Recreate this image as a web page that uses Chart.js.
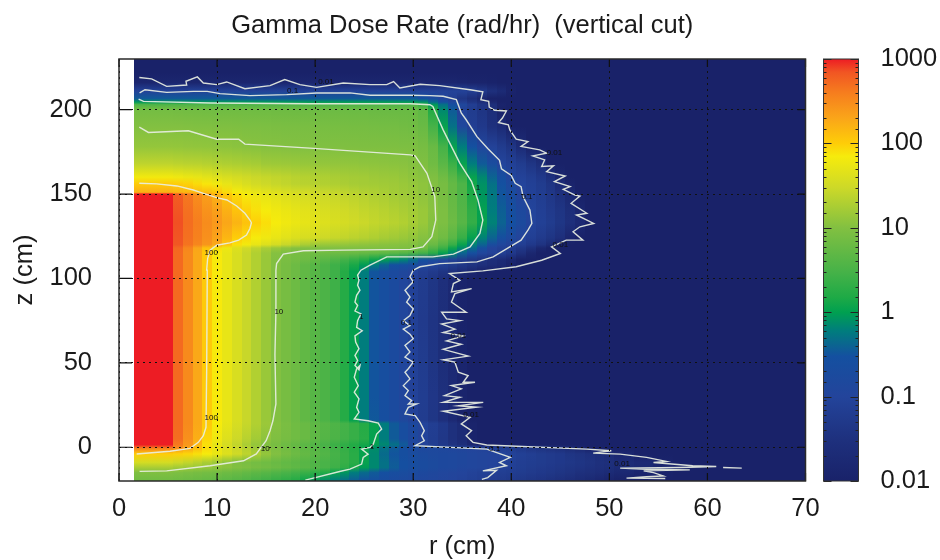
<!DOCTYPE html>
<html><head><meta charset="utf-8"><title>Gamma Dose Rate</title>
<style>html,body{margin:0;padding:0;background:#fff}canvas{display:block}</style>
<script src="https://cdn.jsdelivr.net/npm/chart.js@4"></script></head>
<body><canvas id="c" width="940" height="560"></canvas>
<script>
const chartTitle='Gamma Dose Rate (rad/hr)  (vertical cut)';
const xTicks=[0,10,20,30,40,50,60,70];
const yTicks=[0,50,100,150,200];
const barLabels=[0.01,0.1,1,10,100,1000];
// column edges in r (cm)
const rEdges=[1.5,5.5,6.5,7.5,8.5,9.5,10.5,11.5,12.5,13.5,14.5,15.5,16.5,17.5,18.5,19.5,20.5,21.5,22.5,23.5,24.5,25.5,26.5,27.5,28.5,29.5,30.5,31.5,32.5,33.5,34.5,35.5,36.5,37.5,38.5,39.5,40.5,41.5,42.5,43.5,44.5,45.5,46.5,47.5,48.5,49.5,50.5,52.5,54.5,56.5,58.5,60.5,62.5,64.5,70];
// z of each row of readings, top to bottom
const rowZ=[230,222,216,211,206.5,204.5,203,200,190,178,168,160,156,151,150,140,133,124,120,118,115,111,108,104,100,75,50,30,16,14,5,1.5,-0.5,-4,-9,-12,-15,-20];
// dose rate per row; a row stops where it falls to the 0.01 floor
const doseRows=[
[.01],
[.01],
[.014,.014,.014,.014,.014,.014,.014,.014,.014,.014,.014,.014,.014,.014,.014,.014,.014,.014,.014,.014,.014,.014,.014,.014,.014,.014,.014,.014,.014,.014,.013,.012,.012,.011,.01],
[.09,.09,.09,.09,.09,.09,.09,.09,.09,.09,.09,.09,.09,.09,.09,.09,.09,.09,.09,.09,.09,.09,.09,.09,.09,.09,.09,.09,.09,.09,.09,.07,.05,.03,.02,.012],
[.35,.35,.35,.35,.35,.35,.35,.35,.35,.35,.35,.35,.35,.35,.35,.35,.35,.35,.35,.35,.35,.35,.35,.35,.35,.35,.3,.2,.12,.07,.04,.025,.015],
[.9,.9,.9,.9,.9,.9,.9,.9,.9,.9,.9,.9,.9,.9,.9,.9,.9,.9,.9,.9,.9,.9,.9,.9,.9,.9,.8,.45,.25,.13,.07,.04,.025,.015],
[3.5,3.5,3.5,3.5,3.5,3.5,3.5,3.5,3.5,3.5,3.5,3.5,3.5,3.5,3.5,3.5,3.5,3.5,3.5,3.5,3.5,3.5,3.5,3.5,3.5,3.5,2.4,.9,.5,.25,.13,.07,.04,.025,.012],
[7.5,7.4,7.3,7.2,7.1,7,7,6.9,6.9,6.8,6.8,6.7,6.7,6.6,6.6,6.5,6.5,6.4,6.4,6.3,6.3,6.2,6.2,6.1,6.1,6,5,1.6,.7,.35,.09,.06,.04,.025,.01],
[10,10,9.8,9.7,9.6,9.5,9.4,9.2,9.1,9,8.8,8.7,8.6,8.5,8.4,8.3,8.2,8.1,8,7.9,7.8,7.7,7.6,7.5,7.3,7,6,3,1.1,.5,.13,.07,.05,.03,.02,.01],
[13,12.8,12.6,12.4,12.2,12,11.7,11.4,11.1,10.8,10.5,10.3,10.1,10,9.9,9.8,9.7,9.6,9.5,9.4,9.3,9.3,9.2,9.2,9.1,9,8,6,3,1.1,.6,.3,.12,.09,.06,.04,.02,.01],
[24,23,22.5,22,21,20,19,18.2,17.4,16.6,15,14.7,14.4,14,13.5,13,12.8,12.6,12.4,12.2,12,11.8,11.6,11.3,11,10.5,9.5,7,4.5,2.5,1.1,.6,.35,.2,.1,.08,.06,.04,.025,.01],
[65,60,56,52,47,42,38,35,32,29,27,25.5,24,22.5,21,20,19,18,17,16.5,16,15,14.5,14,13,12,11,9.5,7,4.5,2.5,1.1,.7,.4,.25,.12,.09,.07,.05,.03,.015,.01],
[105,100,95,85,75,62,52,44,38,33,30,27,25,23,22,21,20,19,18,17,16.5,16,15.5,15,14,13,12,10,8,5.5,3.5,1.3,.8,.5,.3,.16,.1,.08,.06,.04,.02,.012],
[170,160,150,140,130,110,85,70,60,52,46,42,38,35,33,30,28,26,24,22,20,19,17.5,16,15,14,12,10.5,8,5.5,3.5,1.5,.85,.55,.32,.2,.1,.085,.065,.045,.03,.017,.01],
[1000,620,430,300,220,160,110,85,68,58,50,45,40,37,34,31,29,27,25,23,21,19,18,16,15,14,12,10.5,8,5.5,3.5,1.5,.85,.55,.32,.2,.1,.085,.065,.045,.03,.017,.01],
[1000,700,480,360,280,220,165,120,95,80,70,62,56,50,46,42,38,35,32,29,26,24,22,20,18,16,14,11,9,6,4,2,1.05,.6,.38,.25,.15,.1,.075,.055,.04,.025,.015,.01],
[1000,720,500,390,310,250,195,155,120,98,82,70,62,56,50,46,42,38,35,32,29,26,24,22,20,17,14,10.5,9,6.5,4.2,2.2,1.1,.65,.4,.27,.17,.1,.08,.06,.042,.028,.018,.01],
[1000,700,480,370,290,210,150,100,85,70,60,52,45,40,36,33,30,27,25,23,21,19,17,15.5,14,12.5,10.5,9,7,4.5,2.3,1.05,.65,.4,.25,.16,.1,.075,.055,.04,.028,.014,.01],
[1000,680,460,340,260,190,115,80,65,52,42,35,28,23,18,15,14,13.5,13,12.5,12,11.5,11,10.8,10.5,10,8.5,6,4,2.3,1.1,.65,.4,.2,.12,.09,.07,.05,.035,.02,.01],
[1000,540,340,200,120,80,58,42,32,24,18,14,12,10.5,10,9.8,9.8,9.8,9.7,9.7,9.7,9.6,9.6,9.6,9.5,9.5,7,4,2.5,1.2,.75,.45,.25,.1,.08,.06,.045,.03,.015],
[1000,520,320,190,105,72,52,38,28,20,14.5,10.5,9,8,7.5,7,6.8,6.5,6.2,6,5.6,5.3,5,4.5,4,3.4,2.8,1.8,1.05,.7,.4,.25,.12,.09,.07,.05,.03,.015],
[1000,520,320,190,105,72,52,38,28,20,14,10,8.5,7.5,6.5,5.5,4.5,3.6,2.8,2.2,1.7,1.2,.95,.8,.65,.45,.3,.2,.12,.08,.06,.045,.035,.025,.02,.015,.01],
[1000,520,320,190,105,72,52,38,28,20,14,10,8,6.5,5.2,4.2,3.4,2.6,2,1.4,.95,.6,.4,.3,.25,.2,.14,.1,.08,.06,.045,.035,.028,.022,.017,.012,.01],
[1000,520,320,190,105,72,52,38,28,20,14,10,8,6.5,5.2,4.2,3.4,2.6,1.7,1.05,.6,.32,.24,.18,.13,.1,.07,.055,.04,.03,.022,.015,.01],
[1000,520,320,190,105,72,52,38,28,20,14,10,8,6.5,5.2,4.2,3.4,2.6,1.7,1.05,.6,.32,.24,.18,.12,.085,.06,.042,.028,.018,.012,.01],
[1000,520,320,190,105,72,52,38,28,20,14,10,8,6.5,5.2,4.2,3.4,2.6,1.7,1.05,.6,.32,.24,.18,.12,.08,.055,.038,.026,.016,.011,.01],
[1000,520,320,190,105,72,52,38,28,20,14,10,8,6.5,5.2,4.2,3.4,2.6,1.7,1.05,.6,.32,.24,.18,.12,.085,.06,.04,.026,.018,.013,.01],
[1000,520,320,190,105,72,52,38,28,20,14,10,8,6.5,5.2,4.2,3.4,2.6,1.7,1.05,.6,.32,.24,.18,.12,.09,.065,.044,.03,.019,.012,.01],
[1000,520,320,190,105,72,52,38,28,20,14,10,8,6.5,5.2,4.2,3.4,2.6,1.7,1.05,.6,.34,.25,.18,.13,.09,.06,.042,.028,.018,.012,.01],
[1000,520,320,190,105,70,50,36,27,20,14.5,10.5,8.5,7,6,5,4.2,3.5,2.9,2.3,1.7,1.1,.6,.35,.22,.15,.1,.07,.05,.03,.02,.012],
[1000,500,290,170,90,60,42,30,22,16,12,9.5,8,7,6,5,4,3.4,2.8,2.3,1.8,1.05,.6,.35,.22,.14,.095,.065,.045,.03,.02,.012],
[1000,420,250,150,80,50,35,25,18,13,9.5,8,6.5,5.5,4.6,3.8,3.1,2.5,2,1.6,1.3,1.02,.7,.5,.35,.12,.09,.07,.05,.035,.025,.015],
[400,300,200,130,85,55,40,29,21,15,11,9,7.2,6,5,4.2,3.5,2.8,2.2,1.7,1.1,.75,.5,.35,.25,.18,.15,.14,.13,.12,.11,.1,.09,.08,.07,.06,.05,.04,.035,.03,.025,.02,.015,.01],
[100,95,90,80,70,55,42,32,24,18,13,10,8,6.5,5.5,4.6,3.8,3,2.4,1.8,1.1,.7,.45,.32,.25,.2,.18,.16,.15,.14,.13,.12,.11,.1,.1,.09,.08,.07,.06,.055,.05,.04,.035,.03,.025,.02,.015,.01],
[35,30,26,22,18,15,12,9.5,8.5,7.5,6.8,6,5.3,4.8,4.2,3.7,3.2,2.8,2.3,1.8,1.1,.7,.5,.35,.27,.22,.19,.17,.15,.14,.13,.12,.11,.1,.09,.08,.07,.065,.06,.055,.05,.045,.04,.035,.03,.027,.022,.018,.012,.01],
[18,16,15,14,13,12,11,9.8,9,8,7.2,6.4,5.6,5,4.4,3.8,3.2,2.6,2,1.4,.95,.7,.5,.36,.28,.22,.19,.17,.15,.14,.125,.115,.105,.095,.085,.075,.068,.06,.055,.05,.045,.04,.036,.032,.028,.025,.02,.017,.014,.011,.01],
[9.5,9,8.5,8,7.6,7.2,6.6,6,5.4,4.8,4.2,3.7,3.2,2.8,2.4,2,1.6,1.15,.85,.6,.45,.35,.28,.23,.2,.17,.15,.135,.12,.11,.1,.09,.08,.075,.07,.065,.06,.055,.05,.045,.04,.035,.03,.027,.024,.02,.016,.013,.011,.01],
[7,6.6,6.2,5.8,5.4,5,4.5,4,3.5,3,2.6,2.2,1.9,1.6,1.2,.95,.75,.58,.45,.36,.3,.25,.21,.18,.16,.14,.125,.115,.105,.1,.09,.08,.07,.062,.055,.05,.045,.04,.036,.032,.028,.024,.02,.017,.014,.012,.01]
];
// contour polylines: r (cm), z (cm)
const c100R=[2.07,3.84,5.9,7.58,8.6,9.96,11,12,12.84,13.35,13.5,13.35,13,12.2,11.3,9.96,9.28,9.04,8.94,9,8.94,8.87,8.6,8.09,7.24,5.2,1.8];
const c100Z=[156.4,156,154.8,152.4,150.4,147.9,146.5,142.9,138.6,134.6,133,129.6,125.7,122.7,121.1,119.7,116.8,111.8,104.9,104.9,45.5,11.8,6.9,2.9,-0.7,-2.4,-4];
const c10R=[2.07,3,7.07,9.96,12.2,12.84,19.47,29.7,30.2,31.4,32.2,32.3,31.9,31,29.7,22.87,18.8,16.75,16.07,16,16,15.9,16,15.7,15.4,15,14,12.7,9.3,4.86,2.1];
const c10Z=[189.6,186.5,187.5,182.5,182.5,179.6,177.2,173.2,172.6,162.3,148.5,134.6,124.7,118.7,117.2,116.8,116.4,114.4,108.8,104.9,80,55,25.7,15.8,9.8,3.9,-4,-8,-11,-14,-14.3];
const c1R=[2,2.5,9.3,19.5,29.7,31.7,32,33.05,34.75,35.95,36.6,37.1,36.8,35.8,34.1,32,30.7,27.3,25.6,24.67,24.33,24.47,24.33,24.57,24.23,24.06,24.33,24.06,24.67,24.33,24.23,24.8,24.06,24.13,24.47,24.06,24.33,24.06,24.47,24.57,24.23,23.99,24.4,23.99,24.47,24.23,24.47,23.99,25.4,26.44,26.78,26.27,25.93,25.6,24.74,25.4,24.9,24.74,23.55,22.5,19];
const c1Z=[206.3,204.9,203.9,203.5,203.5,202.9,201.9,188,168.3,157.4,146.5,134.6,126.7,118.7,114.4,112.8,112.8,112.8,107.9,104.9,101.9,99,96,93,90,86,84,80.7,79,75,71,69,66,62.3,58.4,54.4,51.4,48.5,45.9,48.4,46.4,41.5,36.5,32.6,28.6,23.6,20.7,16.7,15.7,14.3,10.8,7.8,1.9,-0.1,-1.1,-4.1,-6,-10,-13,-14.4,-19.5];
const c01R=[2.1,2.65,4.86,7.6,9,10.3,13.35,17.1,20.15,23.55,25.6,29.7,31.7,33.05,34.4,34.9,35.4,36.5,37.6,38.8,39,40,40.4,41,41.2,41.9,42.1,41.7,41,39.85,38.15,36.5,32.7,30.7,30,29.67,30,29.16,29.67,29.33,30,29.67,28.99,29.67,28.99,29.67,30,29.16,29.67,29.16,30,29.5,29.16,29.67,28.99,29.5,29.16,29.84,29.5,30.35,29.5,29.16,30.2,30.7,31.13,30.86,31.13,30.2,37.5,39.9,38.8,39.5,37.1,38.5,37.6,37];
const c01Z=[209.9,211.8,210.2,210.8,210.8,209.5,208.3,208.9,209.9,209.9,208.5,208.5,208.3,207.9,205.9,198,194,184,177,170,165,161,156.4,154.4,148.5,140.5,132.6,128.6,122.7,118.7,112.8,109.8,108.8,106.9,104.9,101,98,93,89,86,82,78,75,72,70,67,64.3,60.3,56.4,53.4,50.4,46.5,44.4,40.5,36.5,33.6,30.6,27.6,25.6,25.6,23.6,19.7,18.7,14.7,9.8,6.8,3.8,0.9,-1.1,-6,-9,-11,-14,-13.6,-18,-19];
const c001R=[2.07,3.33,4.86,6.9,6.83,7.99,8.6,9.96,10.98,12.84,15.4,16.9,18.45,20.15,22.87,25.6,27.3,28,28.64,30.7,32.7,35.8,37.1,36.9,37.7,37.75,38.3,39.5,39.1,38.7,39.7,39.85,40.5,41.7,41,42.9,43.6,42.2,43.4,43.1,44.3,43.6,45.5,44.4,46,45.3,46.5,47,46.1,47.7,46.65,48.4,47,46.3,47.3,45.6,44.1,45,43.1,40.5,37.1,33.7,34.76,34.1,33.9,35.95,34.25,33.9,35.4,32.9,33.4,34.76,32.9,34.25,33.06,35.1,33.4,34.9,33.06,35.6,33.06,34.25,34.6,35.6,35.1,36.3,33.9,34.9,33.2,34.76,33.06,37.14,34.6,36.5,33.06,35.8,34.9,35.95,35.4,36.1,37.5,47.7,50.2,48.35,51.1,53.8,55.8,54.5,58.5,60.9,57.2,51.1,53.8,58.2,53.5,54.5,55.5,53.8,51.75,55.7];
const c001Z=[219,218.2,213.8,214.6,216.8,219.4,215.8,214.8,216.4,212.4,214.2,217.8,214.8,213.2,215.8,214.8,214.8,216.6,212.8,215,214.2,211.8,210.6,205.9,204.9,201.5,199.6,199.2,195,192.4,191,188,182.5,181.1,178.2,176.2,174.2,172.6,170.2,166.3,166.7,163.3,160.7,157.4,154.4,152.8,149.4,148.8,144.5,138.6,137.6,132.6,130.6,127.7,122.7,122.7,118.7,114.8,110.8,106.9,104.5,102.9,98.9,97,92,94,91,86,80,80,76,75,73,70,68,66,63,61,58,54,51.8,50.4,44.5,42.5,38.5,38.5,36.5,34.6,30.6,29.6,26.6,26.6,24.6,23.7,21.3,17.7,13.8,9.8,6.8,2.9,1.3,-1.1,-2.1,-3.5,-4.1,-6,-8.4,-9,-11,-11.4,-12,-12.4,-13,-13.4,-14,-15,-17,-17.5,-18.3,-18.5];
const c001TailR=[61.6,63.5];
const c001TailZ=[-12,-12.4];
// contour labels as printed on the plot
const labelText=['0.01','0.1','10','1','0.1','0.01','100','0.01','10','1','0.1','0.01','100','0.01','10','1','0.1','0.01'];
const labelR=[21.1,17.7,32.3,36.6,41.6,44.4,9.4,45,16.3,24.7,29.3,34.6,9.4,35.9,14.9,25.8,38.3,51.3];
const labelZ=[216.6,211.2,152.4,153.6,148.2,174.4,115,119.7,80,77.5,74,66.2,17.5,19.3,-0.9,0.3,-1,-9.8];
// colour scale: dose at each stop, and its colour
const mapDose=[.01,.03,.1,.3,.6,1,1.5,3,10,30,70,100,200,400,700,1000];
const mapRGB=[[25,34,105],[30,48,125],[35,68,155],[20,80,160],[0,125,125],[0,160,80],[30,170,70],[70,178,72],[130,192,65],[205,217,40],[246,235,12],[254,205,8],[250,165,25],[246,125,30],[241,85,35],[237,28,36]];

function colorFor(v){
  const L=Math.log10(Math.max(v,mapDose[0]));
  let i=0;
  while(i<mapDose.length-2&&L>Math.log10(mapDose[i+1]))i++;
  const a=Math.log10(mapDose[i]),b=Math.log10(mapDose[i+1]);
  const t=Math.min(1,Math.max(0,(L-a)/(b-a)));
  const p=mapRGB[i],q=mapRGB[i+1];
  return 'rgb('+[0,1,2].map(k=>Math.round(p[k]+(q[k]-p[k])*t)).join(',')+')';
}
const FONT='"Liberation Sans",Arial,sans-serif';
const FS=25.5;
const pts=(R,Z)=>R.map((r,i)=>({x:r,y:Z[i]}));
const line=(label,R,Z,w)=>({type:'scatter',label,data:pts(R,Z),showLine:true,tension:0,pointRadius:0,borderColor:'rgba(232,238,226,0.92)',borderWidth:w||1.4,order:0});

const heatPlugin={id:'heat',
  beforeDatasetsDraw(chart){
    const {ctx,scales:{x,y},chartArea:A}=chart;
    ctx.save();
    ctx.beginPath();ctx.rect(A.left,A.top,A.right-A.left,A.bottom-A.top);ctx.clip();
    const top=y.getPixelForValue(rowZ[0]),bot=y.getPixelForValue(rowZ[rowZ.length-1]);
    for(let c=0;c<rEdges.length-1;c++){
      const g=ctx.createLinearGradient(0,top,0,bot);
      rowZ.forEach((z,i)=>{
        const v=c<doseRows[i].length?doseRows[i][c]:0.01;
        g.addColorStop((y.getPixelForValue(z)-top)/(bot-top),colorFor(v));
      });
      ctx.fillStyle=g;
      const x0=Math.round(x.getPixelForValue(rEdges[c])),x1=Math.round(x.getPixelForValue(rEdges[c+1]));
      ctx.fillRect(x0,top,x1-x0,bot-top);
    }
    ctx.restore();
  },
  afterDraw(chart){
    const {ctx,scales:{x,y,bar},chartArea:A}=chart;
    ctx.save();
    // contour labels
    ctx.fillStyle='#111';ctx.font='8px '+FONT;ctx.textAlign='center';ctx.textBaseline='middle';
    labelText.forEach((t,i)=>ctx.fillText(t,x.getPixelForValue(labelR[i]),y.getPixelForValue(labelZ[i])));
    // inward axis ticks
    ctx.strokeStyle='#111';ctx.lineWidth=1.2;ctx.beginPath();
    x.ticks.forEach(t=>{const p=x.getPixelForValue(t.value);ctx.moveTo(p,A.bottom);ctx.lineTo(p,A.bottom-8);ctx.moveTo(p,A.top);ctx.lineTo(p,A.top+8);});
    y.ticks.forEach(t=>{const p=y.getPixelForValue(t.value);ctx.moveTo(A.left,p);ctx.lineTo(A.left+13,p);ctx.moveTo(A.right,p);ctx.lineTo(A.right-8,p);});
    ctx.stroke();
    // frame
    ctx.strokeStyle='#2a2a2a';ctx.lineWidth=1.5;ctx.strokeRect(A.left,A.top,A.right-A.left,A.bottom-A.top);
    // colour bar on the log scale
    const bl=bar.left+18,br=bar.left+53;
    const bt=bar.getPixelForValue(1000),bb=bar.getPixelForValue(0.01);
    const g=ctx.createLinearGradient(0,bb,0,bt);
    mapDose.forEach(d=>g.addColorStop((bb-bar.getPixelForValue(d))/(bb-bt),colorFor(d)));
    ctx.fillStyle=g;ctx.fillRect(bl,bt,br-bl,bb-bt);
    ctx.strokeStyle='#222';ctx.lineWidth=1;ctx.beginPath();
    bar.ticks.forEach(t=>{
      const p=Math.round(bar.getPixelForValue(t.value))+0.5;
      const major=barLabels.some(l=>Math.abs(Math.log10(l/t.value))<1e-6);
      const n=major?8:3;
      ctx.moveTo(bl,p);ctx.lineTo(bl+n,p);ctx.moveTo(br,p);ctx.lineTo(br-n,p);
    });
    ctx.stroke();
    ctx.strokeStyle='#333';ctx.lineWidth=1;ctx.strokeRect(bl,bt,br-bl,bb-bt);
    ctx.restore();
  }
};
const gridOpt={display:true,color:'#111',lineWidth:1,z:1,drawTicks:false};
new Chart(document.getElementById('c'),{
  type:'scatter',
  data:{datasets:[
    line('0.01',c001R,c001Z),
    line('0.01 tail',c001TailR,c001TailZ),
    line('0.1',c01R,c01Z),
    line('1',c1R,c1Z),
    line('10',c10R,c10Z),
    line('100',c100R,c100Z)
  ]},
  plugins:[heatPlugin],
  options:{
    responsive:false,animation:false,
    layout:{padding:{top:0,left:0,right:0,bottom:0}},
    plugins:{legend:{display:false},tooltip:{enabled:false},
      title:{display:true,text:chartTitle,fullSize:false,color:'#1a1a1a',font:{family:FONT,size:FS,weight:'normal',lineHeight:1.2},padding:{top:10.7,bottom:17.7}}
    },
    scales:{
      x:{type:'linear',min:0,max:70,position:'bottom',
        afterFit(s){s.height=79},
        afterBuildTicks(s){s.ticks=xTicks.map(v=>({value:v}))},
        grid:{...gridOpt},
        border:{display:false,dash:[2,4]},
        ticks:{color:'#1a1a1a',padding:13,maxRotation:0,autoSkip:false,font:{family:FONT,size:FS}},
        title:{display:true,text:'r (cm)',color:'#1a1a1a',font:{family:FONT,size:FS,lineHeight:1},padding:{top:0,bottom:0}}
      },
      y:{type:'linear',min:-20,max:230,position:'left',
        afterFit(s){s.width=119},
        afterBuildTicks(s){s.ticks=yTicks.map(v=>({value:v}))},
        grid:{...gridOpt},
        border:{display:false,dash:[2,4]},
        ticks:{color:'#1a1a1a',padding:27,autoSkip:false,font:{family:FONT,size:FS}},
        title:{display:true,text:'z (cm)',color:'#1a1a1a',font:{family:FONT,size:FS,lineHeight:1},padding:{top:12,bottom:0}}
      },
      bar:{type:'logarithmic',min:0.01,max:1000,position:'right',
        afterFit(s){s.width=134.5;s.paddingTop=0;s.paddingBottom=0},
        grid:{display:false,drawTicks:false},border:{display:false},
        ticks:{color:'#1a1a1a',padding:75,autoSkip:false,maxRotation:0,font:{family:FONT,size:FS},
          callback(v){return barLabels.find(l=>Math.abs(Math.log10(l/v))<1e-6)??''}}
      }
    }
  }
});
</script></body></html>
